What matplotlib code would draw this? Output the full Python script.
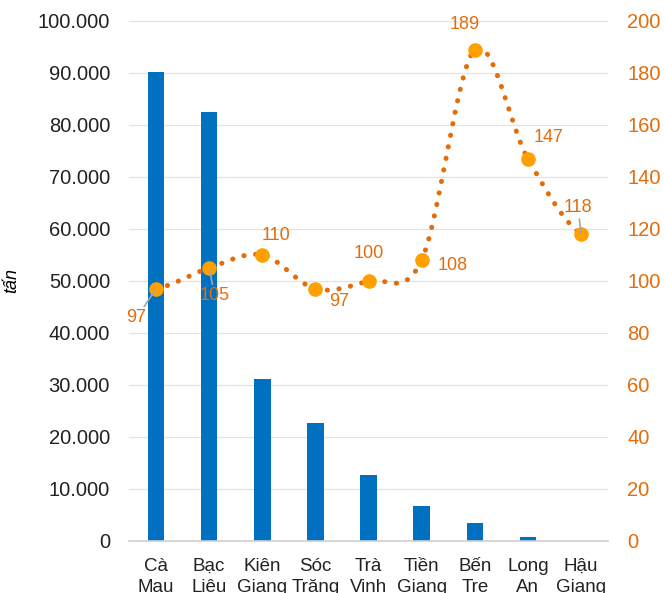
import matplotlib.pyplot as plt
import numpy as np
from matplotlib.ticker import FuncFormatter, MultipleLocator

plt.rcParams['font.family'] = ['Liberation Sans', 'DejaVu Sans']

provinces = ["Cà\nMau", "Bạc\nLiêu", "Kiên\nGiang", "Sóc\nTrăng", "Trà\nVinh",
             "Tiền\nGiang", "Bến\nTre", "Long\nAn", "Hậu\nGiang"]
output_tan = [90200, 82500, 31200, 22700, 12700, 6800, 3400, 800, 0]
index_vals = [97, 105, 110, 97, 100, 108, 189, 147, 118]

# label offsets (points) for the line values
label_offsets = [(-14, -21), (4, -20), (10, 14), (17, -9), (0, 20),
                 (22, -4), (-7, 18), (15, 15), (-2, 19)]
leader = [True, True, False, False, False, False, False, False, True]

bar_color = '#0070C0'
line_color = '#E46C0A'
marker_color = '#FFA000'
text_orange = '#E46C0A'


def smooth(xs, ys, n=30):
    # catmull-rom style curve through the points (like excel smoothed line)
    xs = np.asarray(xs, float)
    ys = np.asarray(ys, float)
    px = np.concatenate([[2 * xs[0] - xs[1]], xs, [2 * xs[-1] - xs[-2]]])
    py = np.concatenate([[ys[0]], ys, [ys[-1]]])
    outx, outy = [], []
    for i in range(1, len(px) - 2):
        t = np.linspace(0, 1, n, endpoint=False)
        for arr, out in ((px, outx), (py, outy)):
            p0, p1, p2, p3 = arr[i - 1], arr[i], arr[i + 1], arr[i + 2]
            out.extend(0.5 * ((2 * p1) + (-p0 + p2) * t
                              + (2 * p0 - 5 * p1 + 4 * p2 - p3) * t ** 2
                              + (-p0 + 3 * p1 - 3 * p2 + p3) * t ** 3))
    outx.append(xs[-1])
    outy.append(ys[-1])
    return np.array(outx), np.array(outy)


fig = plt.figure(figsize=(6.64, 5.93), dpi=100)
ax = fig.add_axes([0.195, 0.0877, 0.72, 0.877])
x = np.arange(len(provinces))

ax.bar(x, output_tan, width=0.31, color=bar_color, zorder=2)
ax.set_xlim(-0.5, len(provinces) - 0.5)
ax.set_ylim(0, 100000)
ax.yaxis.set_major_locator(MultipleLocator(10000))
ax.yaxis.set_major_formatter(FuncFormatter(lambda v, p: f"{int(v):,}".replace(",", ".")))
ax.grid(axis='y', color='#E3E3E3', linewidth=0.9, zorder=0)
ax.set_axisbelow(True)
ax.set_xticks(x)
ax.set_xticklabels(provinces, fontsize=13.5, linespacing=1.3)
ax.tick_params(axis='both', length=0, labelsize=14.5, colors='#222222')
ax.tick_params(axis='x', labelsize=13.5, pad=12)
ax.tick_params(axis='y', pad=14)
for s in ['top', 'right', 'left']:
    ax.spines[s].set_visible(False)
ax.spines['bottom'].set_color('#D0D0D0')
ax.spines['bottom'].set_linewidth(1.2)
ax.set_ylabel('tấn', fontsize=13, style='italic')
ax.yaxis.set_label_coords(-0.229, 0.5)

ax2 = ax.twinx()
ax2.set_ylim(0, 200)
ax2.yaxis.set_major_locator(MultipleLocator(20))
ax2.tick_params(axis='y', length=0, labelsize=14.5, colors=text_orange, pad=14)
for s in ax2.spines.values():
    s.set_visible(False)

sx, sy = smooth(x, index_vals)
ax2.plot(sx, sy, color=line_color, linewidth=3.6, linestyle=(0, (0.05, 2.3)),
         dash_capstyle='round', zorder=3)
ax2.plot(x, index_vals, 'o', color=marker_color, markersize=9.5, zorder=4)

for xi, v, off, ld in zip(x, index_vals, label_offsets, leader):
    ap = None
    if ld:
        ap = dict(arrowstyle='-', color='#A6A6A6', lw=1.2, shrinkA=0, shrinkB=1)
    ax2.annotate(str(v), (xi, v), xytext=off, textcoords='offset points',
                 ha='center', va='center', fontsize=13, color=text_orange,
                 arrowprops=ap, zorder=5)

fig.savefig('out.png', dpi=100)
